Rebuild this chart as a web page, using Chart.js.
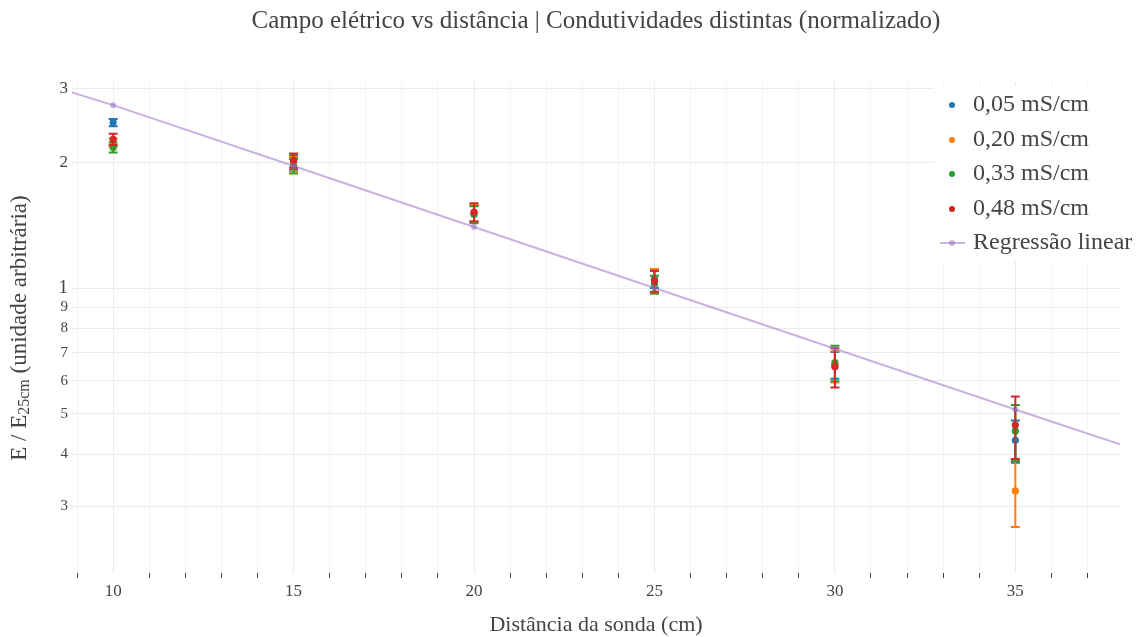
<!DOCTYPE html>
<html><head><meta charset="utf-8">
<script src="https://cdn.jsdelivr.net/npm/chart.js@4.4.1/dist/chart.umd.min.js"></script>
<style>html,body{margin:0;padding:0;background:#fff;}#wrap{width:1137px;height:637px;position:relative;}</style>
</head><body><div id="wrap"><canvas id="c" width="1137" height="637"></canvas></div>
<script>
// ---- data ----
const distances = [10, 15, 20, 25, 30, 35];
const seriesNames = ['0,05 mS/cm', '0,20 mS/cm', '0,33 mS/cm', '0,48 mS/cm'];
const vals005 = [2.49, 2.00, 1.51, 1.05, 0.655, 0.432];
const errs005 = [0.05, 0.08, 0.07, 0.05, 0.048, 0.05];
const vals020 = [2.23, 1.98, 1.51, 1.04, 0.650, 0.327];
const errs020 = [0.05, 0.08, 0.07, 0.07, 0.056, 0.059];
const vals033 = [2.17, 1.96, 1.50, 1.02, 0.663, 0.455];
const errs033 = [0.06, 0.08, 0.07, 0.05, 0.065, 0.07];
const vals048 = [2.27, 2.02, 1.52, 1.04, 0.648, 0.470];
const errs048 = [0.07, 0.08, 0.075, 0.06, 0.07, 0.08];
const regName = 'Regressão linear';
const regX = [8.86, 10, 15, 20, 25, 30, 35, 37.9];
const regY = [2.94, 2.74, 1.96, 1.40, 1.00, 0.716, 0.512, 0.423];
const regMarkers = [0, 3, 3, 3, 3, 3, 3, 0];
const yTickValues = [0.3, 0.4, 0.5, 0.6, 0.7, 0.8, 0.9, 1, 2, 3];
const xTickValues = [9,10,11,12,13,14,15,16,17,18,19,20,21,22,23,24,25,26,27,28,29,30,31,32,33,34,35,36,37];
const xLabelValues = [10, 15, 20, 25, 30, 35];
const titleText = 'Campo elétrico vs distância | Condutividades distintas (normalizado)';
const xTitle = 'Distância da sonda (cm)';

const colors = ['#1f77b4', '#ff7f0e', '#2ca02c', '#d62728'];
const regColor = 'rgba(148,103,189,0.5)';
const FONT = "'Liberation Serif', 'Times New Roman', serif";
const TXT = '#444';

const allVals = [vals005, vals020, vals033, vals048];
const allErrs = [errs005, errs020, errs033, errs048];

const datasets = [{
  label: regName, type: 'line',
  data: regX.map((x, i) => ({x, y: regY[i]})),
  borderColor: regColor, backgroundColor: regColor, borderWidth: 2,
  pointRadius: regMarkers, pointBackgroundColor: regColor, pointBorderWidth: 0,
  tension: 0, fill: false, order: 0
}];
allVals.forEach((v, s) => {
  datasets.push({
    label: seriesNames[s], type: 'scatter',
    data: distances.map((x, i) => ({x, y: v[i]})),
    errors: allErrs[s],
    backgroundColor: colors[s], borderColor: colors[s],
    pointRadius: 3.6, pointBorderWidth: 0, order: 4 - s
  });
});

const decor = {
  id: 'decor',
  beforeDatasetDraw(chart, args) {
    const ds = chart.data.datasets[args.index];
    if (!ds.errors) return;
    const ctx = chart.ctx, xs = chart.scales.x, ys = chart.scales.y;
    ctx.save();
    ctx.strokeStyle = ds.borderColor; ctx.lineWidth = 2;
    ds.data.forEach((p, i) => {
      const px = xs.getPixelForValue(p.x);
      const top = ys.getPixelForValue(p.y + ds.errors[i]);
      const bot = ys.getPixelForValue(p.y - ds.errors[i]);
      ctx.beginPath();
      ctx.moveTo(px, top); ctx.lineTo(px, bot);
      ctx.moveTo(px - 4.5, top); ctx.lineTo(px + 4.5, top);
      ctx.moveTo(px - 4.5, bot); ctx.lineTo(px + 4.5, bot);
      ctx.stroke();
    });
    ctx.restore();
  },
  afterDraw(chart) {
    const ctx = chart.ctx;
    const ca = chart.chartArea;
    ctx.save();
    ctx.fillStyle = TXT;
    // title
    ctx.font = '25px ' + FONT;
    ctx.textAlign = 'center'; ctx.textBaseline = 'middle';
    ctx.fillText(titleText, (ca.left + ca.right) / 2, 21);
    // x title
    ctx.font = '22px ' + FONT;
    ctx.fillText(xTitle, (ca.left + ca.right) / 2, 625);
    // y title with subscript
    ctx.save();
    ctx.translate(20, 328);
    ctx.rotate(-Math.PI / 2);
    ctx.textAlign = 'left'; ctx.textBaseline = 'middle';
    const p1 = 'E / E', p2 = '25cm', p3 = ' (unidade arbitrária)';
    ctx.font = '23px ' + FONT; const w1 = ctx.measureText(p1).width, w3 = ctx.measureText(p3).width;
    ctx.font = '16px ' + FONT; const w2 = ctx.measureText(p2).width;
    let sx = -(w1 + w2 + w3) / 2;
    ctx.font = '23px ' + FONT; ctx.fillText(p1, sx, 0); sx += w1;
    ctx.font = '16px ' + FONT; ctx.fillText(p2, sx, 5); sx += w2;
    ctx.font = '23px ' + FONT; ctx.fillText(p3, sx, 0);
    ctx.restore();
    // legend
    ctx.fillStyle = '#fff';
    ctx.fillRect(934, 86, 203, 175);
    const ly = [105, 140, 174, 209, 243];
    ctx.font = '24px ' + FONT; ctx.textAlign = 'left'; ctx.textBaseline = 'middle';
    seriesNames.forEach((n, i) => {
      ctx.fillStyle = colors[i];
      ctx.beginPath(); ctx.arc(952, ly[i], 3, 0, Math.PI * 2); ctx.fill();
      ctx.fillStyle = TXT; ctx.fillText(n, 973, ly[i]);
    });
    ctx.strokeStyle = regColor; ctx.lineWidth = 2;
    ctx.beginPath(); ctx.moveTo(940, ly[4]); ctx.lineTo(965, ly[4]); ctx.stroke();
    ctx.fillStyle = regColor;
    ctx.beginPath(); ctx.arc(952, ly[4], 3, 0, Math.PI * 2); ctx.fill();
    ctx.fillStyle = TXT; ctx.fillText(regName, 973, ly[4]);
    ctx.restore();
  }
};

new Chart(document.getElementById('c'), {
  type: 'scatter',
  data: { datasets },
  options: {
    responsive: false, animation: false, devicePixelRatio: 1,
    layout: { padding: { top: 81, right: 17, bottom: 0, left: 0 } },
    plugins: { legend: { display: false }, title: { display: false }, tooltip: { enabled: false } },
    scales: {
      x: {
        type: 'linear', min: 8.86, max: 37.9,
        afterBuildTicks: s => { s.ticks = xTickValues.map(v => ({ value: v })); },
        afterFit: s => { s.height = 64; },
        border: { display: false },
        grid: {
          color: c => (c.tick && xLabelValues.includes(c.tick.value)) ? '#ebebeb' : '#f5f5f5',
          tickColor: c => (c.tick && xLabelValues.includes(c.tick.value)) ? 'rgba(0,0,0,0)' : '#444',
          tickLength: 5, lineWidth: 1
        },
        ticks: {
          autoSkip: false, maxRotation: 0, padding: 3, color: TXT,
          font: { family: FONT, size: 17 },
          callback: v => xLabelValues.includes(v) ? String(v) : ''
        }
      },
      y: {
        type: 'logarithmic', min: 0.208, max: 3.13,
        afterBuildTicks: s => { s.ticks = yTickValues.map(v => ({ value: v })); },
        afterFit: s => { s.width = 72; },
        border: { display: false },
        grid: { color: '#ebebeb', drawTicks: false, lineWidth: 1 },
        ticks: {
          autoSkip: false, padding: 4, color: TXT,
          font: c => ({ family: FONT, size: (c.tick && c.tick.value >= 1) ? (c.tick.value === 1 ? 19 : 17) : 15 }),
          callback: v => v >= 1 ? String(v) : String(Math.round(v * 10))
        }
      }
    }
  },
  plugins: [decor]
});
</script></body></html>
